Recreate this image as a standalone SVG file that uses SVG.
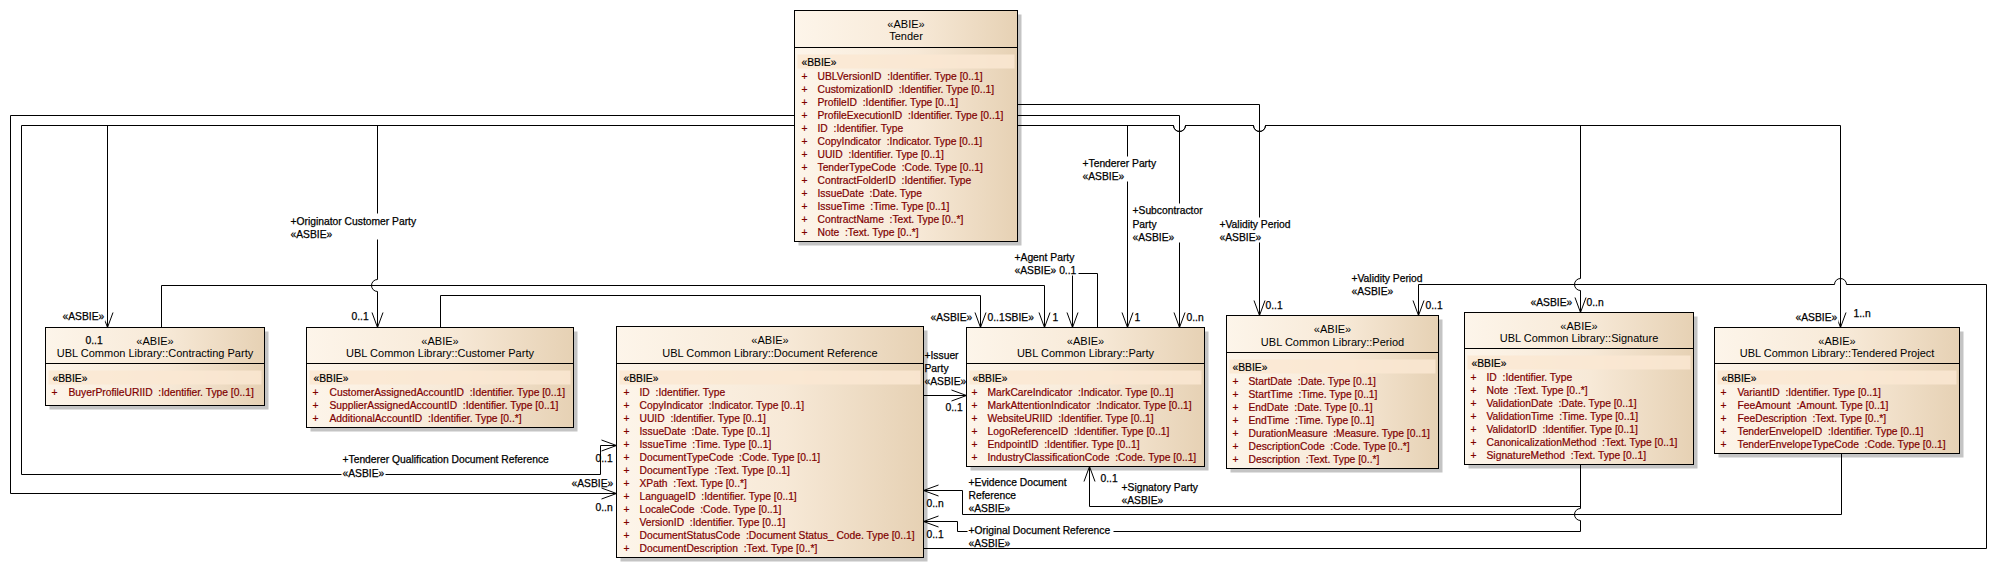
<svg xmlns="http://www.w3.org/2000/svg" width="1996" height="587" viewBox="0 0 1996 587" xml:space="preserve">
<defs>
<linearGradient id="boxfill" x1="0" y1="0" x2="1" y2="0">
<stop offset="0" stop-color="#FDF5EA"/>
<stop offset="0.55" stop-color="#F7E9D7"/>
<stop offset="1" stop-color="#E6D1B4"/>
</linearGradient>
<marker id="arr" viewBox="-16 -7 17 14" refX="0" refY="0" markerWidth="17" markerHeight="14" markerUnits="userSpaceOnUse" orient="auto">
<path d="M-15,-5.5 L0,0 L-15,5.5" fill="none" stroke="#000" stroke-width="1"/>
</marker>
<style>
text { font-family: "Liberation Sans", Arial, sans-serif; white-space: pre; }
.shadow { fill: #C4C4C4; }
.box { fill: url(#boxfill); stroke: #000; stroke-width: 1; }
.div { stroke: #000; stroke-width: 1; }
.band { fill: #FAE8D2; opacity: 0.85; }
.st, .nm { font-size: 11px; fill: #000; text-anchor: middle; }
.bb { font-size: 10.3px; fill: #000; stroke: #000; stroke-width: 0.2; }
.at { font-size: 10.3px; fill: #800000; stroke: #800000; stroke-width: 0.2; }
.con { fill: none; stroke: #000; stroke-width: 1; }
.arw { marker-end: url(#arr); }
.lbl, .mul { font-size: 10.3px; fill: #000; stroke: #000; stroke-width: 0.25; }
.lblbg { fill: #FFFFFF; }
</style>
</defs>
<rect x="0" y="0" width="1996" height="587" fill="#FFFFFF"/>
<g transform="translate(0.5 0.5)">

<g id="tender">
<rect class="shadow" x="798" y="14" width="223" height="231"/>
<rect class="box" x="794" y="10" width="223" height="231"/>
<line class="div" x1="794" y1="47" x2="1017" y2="47"/>
<rect class="band" x="797" y="54" width="217" height="14"/>
<text class="st" x="905.5" y="27">«ABIE»</text>
<text class="nm" x="905.5" y="39">Tender</text>
<text class="bb" x="801" y="65">«BBIE»</text>
<text class="at" y="79"><tspan x="801">+</tspan><tspan x="817">UBLVersionID  :Identifier. Type [0..1]</tspan></text>
<text class="at" y="92"><tspan x="801">+</tspan><tspan x="817">CustomizationID  :Identifier. Type [0..1]</tspan></text>
<text class="at" y="105"><tspan x="801">+</tspan><tspan x="817">ProfileID  :Identifier. Type [0..1]</tspan></text>
<text class="at" y="118"><tspan x="801">+</tspan><tspan x="817">ProfileExecutionID  :Identifier. Type [0..1]</tspan></text>
<text class="at" y="131"><tspan x="801">+</tspan><tspan x="817">ID  :Identifier. Type</tspan></text>
<text class="at" y="144"><tspan x="801">+</tspan><tspan x="817">CopyIndicator  :Indicator. Type [0..1]</tspan></text>
<text class="at" y="157"><tspan x="801">+</tspan><tspan x="817">UUID  :Identifier. Type [0..1]</tspan></text>
<text class="at" y="170"><tspan x="801">+</tspan><tspan x="817">TenderTypeCode  :Code. Type [0..1]</tspan></text>
<text class="at" y="183"><tspan x="801">+</tspan><tspan x="817">ContractFolderID  :Identifier. Type</tspan></text>
<text class="at" y="196"><tspan x="801">+</tspan><tspan x="817">IssueDate  :Date. Type</tspan></text>
<text class="at" y="209"><tspan x="801">+</tspan><tspan x="817">IssueTime  :Time. Type [0..1]</tspan></text>
<text class="at" y="222"><tspan x="801">+</tspan><tspan x="817">ContractName  :Text. Type [0..*]</tspan></text>
<text class="at" y="235"><tspan x="801">+</tspan><tspan x="817">Note  :Text. Type [0..*]</tspan></text>
</g>

<g id="contracting-party">
<rect class="shadow" x="49" y="331" width="219" height="78"/>
<rect class="box" x="45" y="327" width="219" height="78"/>
<line class="div" x1="45" y1="363" x2="264" y2="363"/>
<rect class="band" x="48" y="370" width="213" height="14"/>
<text class="st" x="154.5" y="344">«ABIE»</text>
<text class="nm" x="154.5" y="356">UBL Common Library::Contracting Party</text>
<text class="mul" x="85" y="343">0..1</text>
<text class="bb" x="52" y="381">«BBIE»</text>
<text class="at" y="395"><tspan x="51">+</tspan><tspan x="68">BuyerProfileURIID  :Identifier. Type [0..1]</tspan></text>
</g>

<g id="customer-party">
<rect class="shadow" x="310" y="331" width="267" height="100"/>
<rect class="box" x="306" y="327" width="267" height="100"/>
<line class="div" x1="306" y1="363" x2="573" y2="363"/>
<rect class="band" x="309" y="370" width="261" height="14"/>
<text class="st" x="439.5" y="344">«ABIE»</text>
<text class="nm" x="439.5" y="356">UBL Common Library::Customer Party</text>
<text class="bb" x="313" y="381">«BBIE»</text>
<text class="at" y="395"><tspan x="312">+</tspan><tspan x="329">CustomerAssignedAccountID  :Identifier. Type [0..1]</tspan></text>
<text class="at" y="408"><tspan x="312">+</tspan><tspan x="329">SupplierAssignedAccountID  :Identifier. Type [0..1]</tspan></text>
<text class="at" y="421"><tspan x="312">+</tspan><tspan x="329">AdditionalAccountID  :Identifier. Type [0..*]</tspan></text>
</g>

<g id="document-reference">
<rect class="shadow" x="620" y="330" width="307" height="231"/>
<rect class="box" x="616" y="326" width="307" height="231"/>
<line class="div" x1="616" y1="363" x2="923" y2="363"/>
<rect class="band" x="619" y="370" width="301" height="14"/>
<text class="st" x="769.5" y="343">«ABIE»</text>
<text class="nm" x="769.5" y="356">UBL Common Library::Document Reference</text>
<text class="bb" x="623" y="381">«BBIE»</text>
<text class="at" y="395"><tspan x="623">+</tspan><tspan x="639">ID  :Identifier. Type</tspan></text>
<text class="at" y="408"><tspan x="623">+</tspan><tspan x="639">CopyIndicator  :Indicator. Type [0..1]</tspan></text>
<text class="at" y="421"><tspan x="623">+</tspan><tspan x="639">UUID  :Identifier. Type [0..1]</tspan></text>
<text class="at" y="434"><tspan x="623">+</tspan><tspan x="639">IssueDate  :Date. Type [0..1]</tspan></text>
<text class="at" y="447"><tspan x="623">+</tspan><tspan x="639">IssueTime  :Time. Type [0..1]</tspan></text>
<text class="at" y="460"><tspan x="623">+</tspan><tspan x="639">DocumentTypeCode  :Code. Type [0..1]</tspan></text>
<text class="at" y="473"><tspan x="623">+</tspan><tspan x="639">DocumentType  :Text. Type [0..1]</tspan></text>
<text class="at" y="486"><tspan x="623">+</tspan><tspan x="639">XPath  :Text. Type [0..*]</tspan></text>
<text class="at" y="499"><tspan x="623">+</tspan><tspan x="639">LanguageID  :Identifier. Type [0..1]</tspan></text>
<text class="at" y="512"><tspan x="623">+</tspan><tspan x="639">LocaleCode  :Code. Type [0..1]</tspan></text>
<text class="at" y="525"><tspan x="623">+</tspan><tspan x="639">VersionID  :Identifier. Type [0..1]</tspan></text>
<text class="at" y="538"><tspan x="623">+</tspan><tspan x="639">DocumentStatusCode  :Document Status_ Code. Type [0..1]</tspan></text>
<text class="at" y="551"><tspan x="623">+</tspan><tspan x="639">DocumentDescription  :Text. Type [0..*]</tspan></text>
</g>

<g id="party">
<rect class="shadow" x="970" y="331" width="238" height="139"/>
<rect class="box" x="966" y="327" width="238" height="139"/>
<line class="div" x1="966" y1="363" x2="1204" y2="363"/>
<rect class="band" x="969" y="370" width="232" height="14"/>
<text class="st" x="1085" y="344">«ABIE»</text>
<text class="nm" x="1085" y="356">UBL Common Library::Party</text>
<text class="bb" x="972" y="381">«BBIE»</text>
<text class="at" y="395"><tspan x="971">+</tspan><tspan x="987">MarkCareIndicator  :Indicator. Type [0..1]</tspan></text>
<text class="at" y="408"><tspan x="971">+</tspan><tspan x="987">MarkAttentionIndicator  :Indicator. Type [0..1]</tspan></text>
<text class="at" y="421"><tspan x="971">+</tspan><tspan x="987">WebsiteURIID  :Identifier. Type [0..1]</tspan></text>
<text class="at" y="434"><tspan x="971">+</tspan><tspan x="987">LogoReferenceID  :Identifier. Type [0..1]</tspan></text>
<text class="at" y="447"><tspan x="971">+</tspan><tspan x="987">EndpointID  :Identifier. Type [0..1]</tspan></text>
<text class="at" y="460"><tspan x="971">+</tspan><tspan x="987">IndustryClassificationCode  :Code. Type [0..1]</tspan></text>
</g>

<g id="period">
<rect class="shadow" x="1230" y="319" width="212" height="153"/>
<rect class="box" x="1226" y="315" width="212" height="153"/>
<line class="div" x1="1226" y1="352" x2="1438" y2="352"/>
<rect class="band" x="1229" y="359" width="206" height="14"/>
<text class="st" x="1332" y="332">«ABIE»</text>
<text class="nm" x="1332" y="345">UBL Common Library::Period</text>
<text class="bb" x="1232" y="370">«BBIE»</text>
<text class="at" y="384"><tspan x="1232">+</tspan><tspan x="1248">StartDate  :Date. Type [0..1]</tspan></text>
<text class="at" y="397"><tspan x="1232">+</tspan><tspan x="1248">StartTime  :Time. Type [0..1]</tspan></text>
<text class="at" y="410"><tspan x="1232">+</tspan><tspan x="1248">EndDate  :Date. Type [0..1]</tspan></text>
<text class="at" y="423"><tspan x="1232">+</tspan><tspan x="1248">EndTime  :Time. Type [0..1]</tspan></text>
<text class="at" y="436"><tspan x="1232">+</tspan><tspan x="1248">DurationMeasure  :Measure. Type [0..1]</tspan></text>
<text class="at" y="449"><tspan x="1232">+</tspan><tspan x="1248">DescriptionCode  :Code. Type [0..*]</tspan></text>
<text class="at" y="462"><tspan x="1232">+</tspan><tspan x="1248">Description  :Text. Type [0..*]</tspan></text>
</g>

<g id="signature">
<rect class="shadow" x="1468" y="316" width="229" height="152"/>
<rect class="box" x="1464" y="312" width="229" height="152"/>
<line class="div" x1="1464" y1="348" x2="1693" y2="348"/>
<rect class="band" x="1467" y="355" width="223" height="14"/>
<text class="st" x="1578.5" y="329">«ABIE»</text>
<text class="nm" x="1578.5" y="341">UBL Common Library::Signature</text>
<text class="bb" x="1471" y="366">«BBIE»</text>
<text class="at" y="380"><tspan x="1470">+</tspan><tspan x="1486">ID  :Identifier. Type</tspan></text>
<text class="at" y="393"><tspan x="1470">+</tspan><tspan x="1486">Note  :Text. Type [0..*]</tspan></text>
<text class="at" y="406"><tspan x="1470">+</tspan><tspan x="1486">ValidationDate  :Date. Type [0..1]</tspan></text>
<text class="at" y="419"><tspan x="1470">+</tspan><tspan x="1486">ValidationTime  :Time. Type [0..1]</tspan></text>
<text class="at" y="432"><tspan x="1470">+</tspan><tspan x="1486">ValidatorID  :Identifier. Type [0..1]</tspan></text>
<text class="at" y="445"><tspan x="1470">+</tspan><tspan x="1486">CanonicalizationMethod  :Text. Type [0..1]</tspan></text>
<text class="at" y="458"><tspan x="1470">+</tspan><tspan x="1486">SignatureMethod  :Text. Type [0..1]</tspan></text>
</g>

<g id="tendered-project">
<rect class="shadow" x="1718" y="331" width="245" height="126"/>
<rect class="box" x="1714" y="327" width="245" height="126"/>
<line class="div" x1="1714" y1="363" x2="1959" y2="363"/>
<rect class="band" x="1717" y="370" width="239" height="14"/>
<text class="st" x="1836.5" y="344">«ABIE»</text>
<text class="nm" x="1836.5" y="356">UBL Common Library::Tendered Project</text>
<text class="bb" x="1721" y="381">«BBIE»</text>
<text class="at" y="395"><tspan x="1720">+</tspan><tspan x="1737">VariantID  :Identifier. Type [0..1]</tspan></text>
<text class="at" y="408"><tspan x="1720">+</tspan><tspan x="1737">FeeAmount  :Amount. Type [0..1]</tspan></text>
<text class="at" y="421"><tspan x="1720">+</tspan><tspan x="1737">FeeDescription  :Text. Type [0..*]</tspan></text>
<text class="at" y="434"><tspan x="1720">+</tspan><tspan x="1737">TenderEnvelopeID  :Identifier. Type [0..1]</tspan></text>
<text class="at" y="447"><tspan x="1720">+</tspan><tspan x="1737">TenderEnvelopeTypeCode  :Code. Type [0..1]</tspan></text>
</g>

<g id="connectors">
<path class="con arw" d="M794,115 H10 V493 H616"/>
<path class="con arw" d="M794,125 H21 V474 H600 V445 H616"/>
<path class="con arw" d="M794,125 H107 V327"/>
<path class="con arw" d="M794,125 H377 V279 A6,6 0 0 0 377,291 V327"/>
<path class="con arw" d="M1017,104 H1259 V315"/>
<path class="con arw" d="M1017,115 H1179 V327"/>
<path class="con arw" d="M1017,125 H1127 V327"/>
<path class="con arw" d="M1017,125 H1173 A6,6 0 0 0 1185,125 H1253 A6,6 0 0 0 1265,125 H1580 V278 A6,6 0 0 0 1580,290 V312"/>
<path class="con arw" d="M1017,125 H1173 A6,6 0 0 0 1185,125 H1253 A6,6 0 0 0 1265,125 H1840 V327"/>
<path class="con arw" d="M161,327 V285 H1044 V327"/>
<path class="con arw" d="M440,327 V295 H980 V327"/>
<path class="con arw" d="M1097,327 V273 H1072 V327"/>
<path class="con arw" d="M923,395 H966"/>
<path class="con arw" d="M1580,464 V506 H1089 V466"/>
<path class="con arw" d="M1580,464 V508 A6,6 0 0 0 1580,520 V531 H957 V521 H923"/>
<path class="con arw" d="M1841,453 V514 H962 V490 H923"/>
<path class="con arw" d="M923,548 H1986 V284 H1846 A6,6 0 0 0 1834,284 H1418 V315"/>
</g>

<g id="connector-labels">
<rect class="lblbg" x="61" y="309" width="44" height="12"/>
<rect class="lblbg" x="289" y="213" width="128" height="26"/>
<rect class="lblbg" x="341" y="466" width="44" height="12"/>
<rect class="lblbg" x="1081" y="156" width="77" height="25"/>
<rect class="lblbg" x="1131" y="203" width="72" height="39"/>
<rect class="lblbg" x="1218" y="217" width="74" height="25"/>
<rect class="lblbg" x="1013" y="263" width="65" height="12"/>
<rect class="lblbg" x="967" y="523" width="146" height="12"/>
<rect class="lblbg" x="1794" y="310" width="44" height="12"/>
<text class="lbl" x="62" y="319">«ASBIE»</text>
<text class="lbl" x="290" y="224">+Originator Customer Party</text>
<text class="lbl" x="290" y="237">«ASBIE»</text>
<text class="lbl" x="351" y="319">0..1</text>
<text class="lbl" x="342" y="462">+Tenderer Qualification Document Reference</text>
<text class="lbl" x="342" y="476">«ASBIE»</text>
<text class="lbl" x="595" y="461">0..1</text>
<text class="lbl" x="571" y="486">«ASBIE»</text>
<text class="lbl" x="595" y="510">0..n</text>
<text class="lbl" x="930" y="320">«ASBIE»</text>
<text class="lbl" x="987" y="320">0..1SBIE»</text>
<text class="lbl" x="1052" y="320">1</text>
<text class="lbl" x="1014" y="260">+Agent Party</text>
<text class="lbl" x="1014" y="273">«ASBIE» 0..1</text>
<text class="lbl" x="1134" y="320">1</text>
<text class="lbl" x="1186" y="320">0..n</text>
<text class="lbl" x="1082" y="166">+Tenderer Party</text>
<text class="lbl" x="1082" y="179">«ASBIE»</text>
<text class="lbl" x="1132" y="213">+Subcontractor</text>
<text class="lbl" x="1132" y="227">Party</text>
<text class="lbl" x="1132" y="240">«ASBIE»</text>
<text class="lbl" x="1219" y="227">+Validity Period</text>
<text class="lbl" x="1219" y="240">«ASBIE»</text>
<text class="lbl" x="1265" y="308">0..1</text>
<text class="lbl" x="1351" y="281">+Validity Period</text>
<text class="lbl" x="1351" y="294">«ASBIE»</text>
<text class="lbl" x="1425" y="308">0..1</text>
<text class="lbl" x="1530" y="305">«ASBIE»</text>
<text class="lbl" x="1586" y="305">0..n</text>
<text class="lbl" x="1795" y="320">«ASBIE»</text>
<text class="lbl" x="1853" y="316">1..n</text>
<text class="lbl" x="924" y="358">+Issuer</text>
<text class="lbl" x="924" y="371">Party</text>
<text class="lbl" x="924" y="384">«ASBIE»</text>
<text class="lbl" x="945" y="410">0..1</text>
<text class="lbl" x="1100" y="481">0..1</text>
<text class="lbl" x="1121" y="490">+Signatory Party</text>
<text class="lbl" x="1121" y="503">«ASBIE»</text>
<text class="lbl" x="968" y="485">+Evidence Document</text>
<text class="lbl" x="968" y="498">Reference</text>
<text class="lbl" x="968" y="511">«ASBIE»</text>
<text class="lbl" x="926" y="506">0..n</text>
<text class="lbl" x="968" y="533">+Original Document Reference</text>
<text class="lbl" x="968" y="546">«ASBIE»</text>
<text class="lbl" x="926" y="537">0..1</text>
</g>

</g>
</svg>
